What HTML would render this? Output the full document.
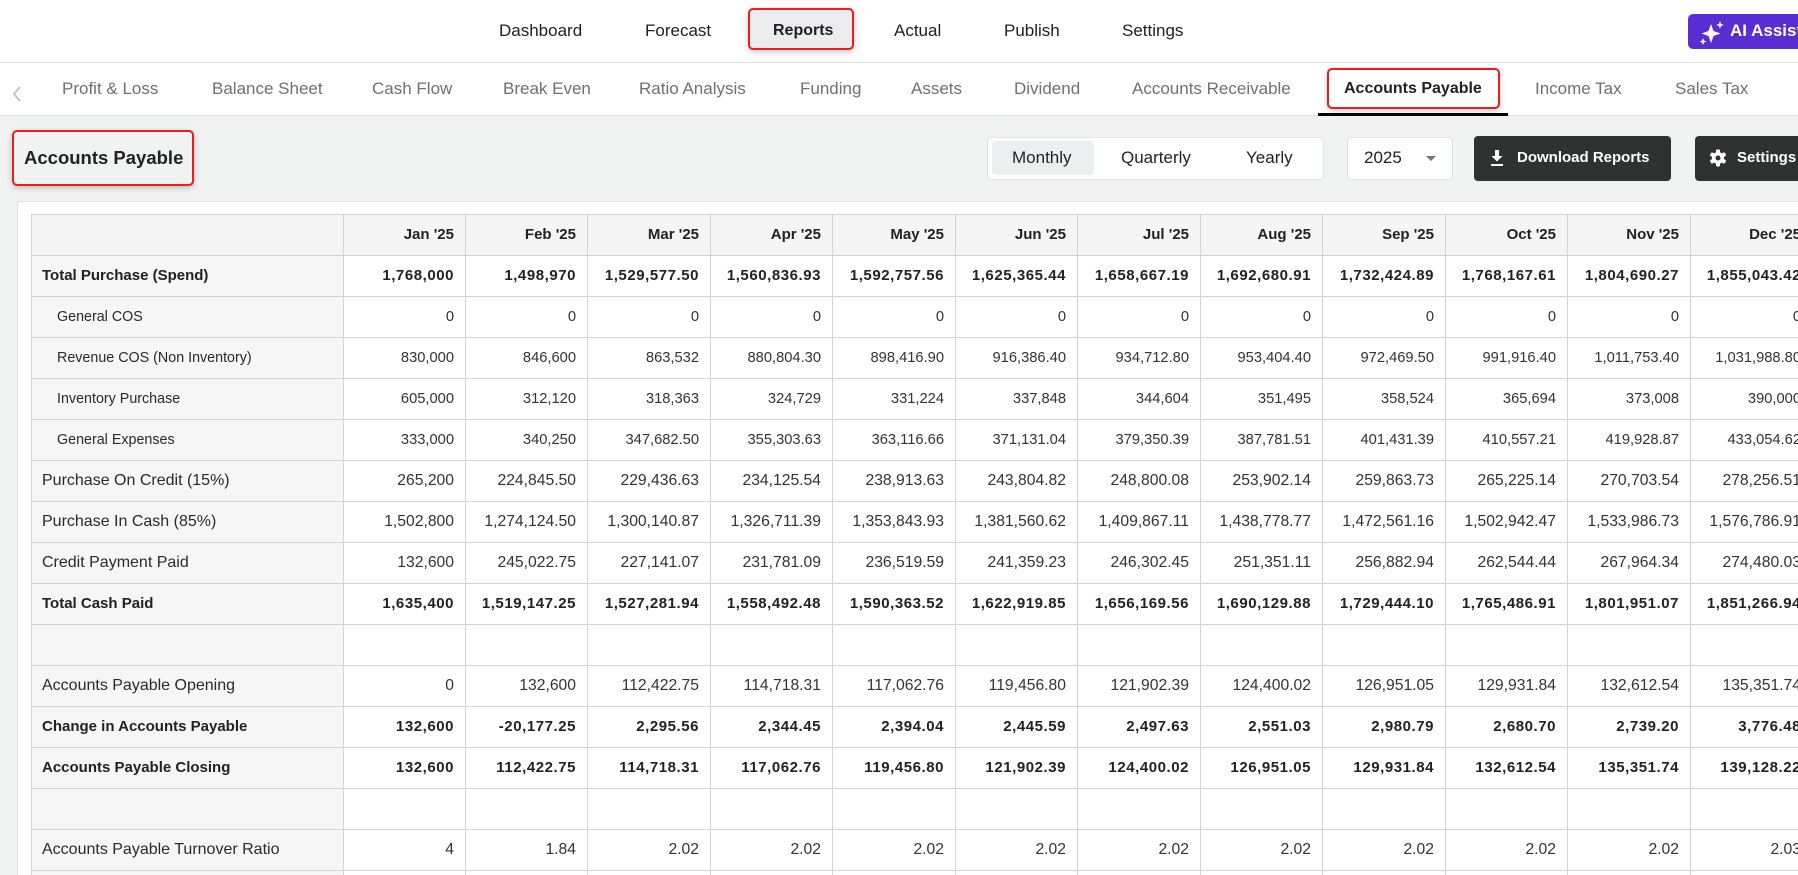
<!DOCTYPE html>
<html>
<head>
<meta charset="utf-8">
<style>
*{box-sizing:border-box;margin:0;padding:0}
html,body{width:1798px;height:875px;overflow:hidden}
body{position:relative;background:#f1f2f2;font-family:"Liberation Sans",Arial,sans-serif;color:#222}
.abs{position:absolute;white-space:nowrap}
#top{position:absolute;left:0;top:0;width:1798px;height:63px;background:#fff;border-bottom:1px solid #e0e0e0}
#tabs{position:absolute;left:0;top:63px;width:1798px;height:53px;background:#fff;border-bottom:1px solid #dcdcdc}
.nav{font-size:17px;line-height:20px;top:21px;color:#1f1f1f}
.tab{font-size:17px;line-height:20px;top:79px;color:#707070}
.box{position:absolute;border:2px solid #ee1c1c;border-radius:5px;box-shadow:0 2px 6px rgba(0,0,0,0.22)}
.ctl{font-size:17px;line-height:20px;top:148px;color:#222}
#card{position:absolute;left:17px;top:201px;width:1800px;height:700px;background:#fff;border-top:1px solid #e2e2e2;border-left:1px solid #e2e2e2}
#tbl{position:absolute;left:31px;top:214px;width:1790px;border-top:1px solid #d3d3d3;border-left:1px solid #d3d3d3}
.r{display:flex;height:41px;border-bottom:1px solid #d3d3d3}
.c{height:40px;border-right:1px solid #d3d3d3;text-align:right;padding-right:11px;line-height:40px;white-space:nowrap;overflow:hidden;color:#333;font-size:14.7px;flex:none}
.c.l{width:312px;text-align:left;padding-left:10px;padding-right:0;background:#f6f6f6;color:#2a2a2a;font-size:16px}
.r.h .c{background:#f5f5f5;font-weight:bold;font-size:15px;color:#222}
.r.b .c{font-weight:bold;font-size:15px;color:#222;letter-spacing:0.55px}
.r.b .c.l{font-size:15px;letter-spacing:0}
.r.i .c.l{padding-left:25px;font-size:14.3px}
.r.m .c{font-size:15.7px}
.r.m .c.l{font-size:16px}
</style>
</head>
<body>
<div id="top"></div>
<div id="tabs"></div>

<!-- top nav -->
<div class="box" style="left:748px;top:8px;width:106px;height:42px;background:#ececee"></div>
<span class="abs nav" style="left:499px">Dashboard</span>
<span class="abs nav" style="left:645px">Forecast</span>
<span class="abs nav" style="left:773px;font-weight:bold;font-size:16px">Reports</span>
<span class="abs nav" style="left:894px">Actual</span>
<span class="abs nav" style="left:1004px">Publish</span>
<span class="abs nav" style="left:1122px">Settings</span>

<div class="abs" style="left:1688px;top:14px;width:140px;height:35px;background:#5a2dd2;border-radius:5px"></div>
<svg class="abs" style="left:1698px;top:20px" width="28" height="26" viewBox="0 0 28 26">
<path d="M13 4 L15.5 11 L22.5 13.5 L15.5 16 L13 23 L10.5 16 L3.5 13.5 L10.5 11 Z" fill="#fff"/>
<path d="M22 1 L23 4 L26 5 L23 6 L22 9 L21 6 L18 5 L21 4 Z" fill="#fff"/>
<path d="M5 18 L6 20.5 L8.5 21.5 L6 22.5 L5 25 L4 22.5 L1.5 21.5 L4 20.5 Z" fill="#fff"/>
</svg>
<span class="abs" style="left:1730px;top:21px;font-size:17px;line-height:20px;color:#fff;font-weight:bold">AI Assistant</span>

<!-- sub tabs -->
<svg class="abs" style="left:11px;top:86px" width="12" height="16" viewBox="0 0 12 16"><polyline points="9,1 3,8 9,15" fill="none" stroke="#c4c4c4" stroke-width="2"/></svg>
<span class="abs tab" style="left:62px">Profit &amp; Loss</span>
<span class="abs tab" style="left:212px">Balance Sheet</span>
<span class="abs tab" style="left:372px">Cash Flow</span>
<span class="abs tab" style="left:503px">Break Even</span>
<span class="abs tab" style="left:639px">Ratio Analysis</span>
<span class="abs tab" style="left:800px">Funding</span>
<span class="abs tab" style="left:911px">Assets</span>
<span class="abs tab" style="left:1014px">Dividend</span>
<span class="abs tab" style="left:1132px">Accounts Receivable</span>
<div class="box" style="left:1327px;top:68px;width:173px;height:41px;background:#fff"></div>
<span class="abs tab" style="left:1344px;color:#222;font-weight:bold;font-size:16px">Accounts Payable</span>
<div class="abs" style="left:1318px;top:113px;width:190px;height:3px;background:#000"></div>
<span class="abs tab" style="left:1535px">Income Tax</span>
<span class="abs tab" style="left:1675px">Sales Tax</span>

<!-- title -->
<div class="box" style="left:12px;top:130px;width:182px;height:56px;background:#f1f2f2"></div>
<span class="abs" style="left:24px;top:147px;font-size:18.5px;line-height:22px;font-weight:bold;color:#222">Accounts Payable</span>

<!-- controls -->
<div class="abs" style="left:987px;top:137px;width:337px;height:43px;background:#fff;border:1px solid #e2e2e2;border-radius:4px"></div>
<div class="abs" style="left:992px;top:141px;width:102px;height:34px;background:#eceef0;border-radius:4px"></div>
<span class="abs ctl" style="left:1012px">Monthly</span>
<span class="abs ctl" style="left:1121px">Quarterly</span>
<span class="abs ctl" style="left:1246px">Yearly</span>

<div class="abs" style="left:1347px;top:137px;width:106px;height:43px;background:#fff;border:1px solid #e2e2e2;border-radius:4px"></div>
<span class="abs ctl" style="left:1364px">2025</span>
<div class="abs" style="left:1426px;top:156px;width:0;height:0;border-left:5px solid transparent;border-right:5px solid transparent;border-top:5px solid #777"></div>

<div class="abs" style="left:1474px;top:136px;width:197px;height:45px;background:#303131;border-radius:4px"></div>
<svg class="abs" style="left:1490px;top:149px" width="14" height="18" viewBox="0 0 14 18">
<path d="M5 1 H9 V7 H12.5 L7 12.5 L1.5 7 H5 Z" fill="#fff"/><rect x="1" y="15" width="12" height="2" fill="#fff"/>
</svg>
<span class="abs" style="left:1517px;top:148px;font-size:15px;line-height:20px;font-weight:bold;color:#fff">Download Reports</span>

<div class="abs" style="left:1695px;top:136px;width:150px;height:45px;background:#303131;border-radius:4px"></div>
<svg class="abs" style="left:1709px;top:149px" width="18" height="18" viewBox="0 0 18 18">
<g fill="#fff" transform="translate(9 9)">
<rect x="-2" y="-8.5" width="4" height="17" rx="1"/>
<rect x="-2" y="-8.5" width="4" height="17" rx="1" transform="rotate(60)"/>
<rect x="-2" y="-8.5" width="4" height="17" rx="1" transform="rotate(120)"/>
<circle r="6"/>
</g>
<circle cx="9" cy="9" r="2.5" fill="#303131"/>
</svg>
<span class="abs" style="left:1737px;top:148px;font-size:15px;line-height:20px;font-weight:bold;color:#fff">Settings</span>

<!-- card + table -->
<div id="card"></div>
<div id="tbl">
<div class="r h"><div class="c l"></div><div class="c" style="width:122px">Jan '25</div><div class="c" style="width:122px">Feb '25</div><div class="c" style="width:123px">Mar '25</div><div class="c" style="width:122px">Apr '25</div><div class="c" style="width:123px">May '25</div><div class="c" style="width:122px">Jun '25</div><div class="c" style="width:123px">Jul '25</div><div class="c" style="width:122px">Aug '25</div><div class="c" style="width:123px">Sep '25</div><div class="c" style="width:122px">Oct '25</div><div class="c" style="width:123px">Nov '25</div><div class="c" style="width:122px">Dec '25</div></div>

<div class="r b"><div class="c l">Total Purchase (Spend)</div><div class="c" style="width:122px">1,768,000</div><div class="c" style="width:122px">1,498,970</div><div class="c" style="width:123px">1,529,577.50</div><div class="c" style="width:122px">1,560,836.93</div><div class="c" style="width:123px">1,592,757.56</div><div class="c" style="width:122px">1,625,365.44</div><div class="c" style="width:123px">1,658,667.19</div><div class="c" style="width:122px">1,692,680.91</div><div class="c" style="width:123px">1,732,424.89</div><div class="c" style="width:122px">1,768,167.61</div><div class="c" style="width:123px">1,804,690.27</div><div class="c" style="width:122px">1,855,043.42</div></div>

<div class="r i"><div class="c l">General COS</div><div class="c" style="width:122px">0</div><div class="c" style="width:122px">0</div><div class="c" style="width:123px">0</div><div class="c" style="width:122px">0</div><div class="c" style="width:123px">0</div><div class="c" style="width:122px">0</div><div class="c" style="width:123px">0</div><div class="c" style="width:122px">0</div><div class="c" style="width:123px">0</div><div class="c" style="width:122px">0</div><div class="c" style="width:123px">0</div><div class="c" style="width:122px">0</div></div>

<div class="r i"><div class="c l">Revenue COS (Non Inventory)</div><div class="c" style="width:122px">830,000</div><div class="c" style="width:122px">846,600</div><div class="c" style="width:123px">863,532</div><div class="c" style="width:122px">880,804.30</div><div class="c" style="width:123px">898,416.90</div><div class="c" style="width:122px">916,386.40</div><div class="c" style="width:123px">934,712.80</div><div class="c" style="width:122px">953,404.40</div><div class="c" style="width:123px">972,469.50</div><div class="c" style="width:122px">991,916.40</div><div class="c" style="width:123px">1,011,753.40</div><div class="c" style="width:122px">1,031,988.80</div></div>

<div class="r i"><div class="c l">Inventory Purchase</div><div class="c" style="width:122px">605,000</div><div class="c" style="width:122px">312,120</div><div class="c" style="width:123px">318,363</div><div class="c" style="width:122px">324,729</div><div class="c" style="width:123px">331,224</div><div class="c" style="width:122px">337,848</div><div class="c" style="width:123px">344,604</div><div class="c" style="width:122px">351,495</div><div class="c" style="width:123px">358,524</div><div class="c" style="width:122px">365,694</div><div class="c" style="width:123px">373,008</div><div class="c" style="width:122px">390,000</div></div>

<div class="r i"><div class="c l">General Expenses</div><div class="c" style="width:122px">333,000</div><div class="c" style="width:122px">340,250</div><div class="c" style="width:123px">347,682.50</div><div class="c" style="width:122px">355,303.63</div><div class="c" style="width:123px">363,116.66</div><div class="c" style="width:122px">371,131.04</div><div class="c" style="width:123px">379,350.39</div><div class="c" style="width:122px">387,781.51</div><div class="c" style="width:123px">401,431.39</div><div class="c" style="width:122px">410,557.21</div><div class="c" style="width:123px">419,928.87</div><div class="c" style="width:122px">433,054.62</div></div>

<div class="r m"><div class="c l">Purchase On Credit (15%)</div><div class="c" style="width:122px">265,200</div><div class="c" style="width:122px">224,845.50</div><div class="c" style="width:123px">229,436.63</div><div class="c" style="width:122px">234,125.54</div><div class="c" style="width:123px">238,913.63</div><div class="c" style="width:122px">243,804.82</div><div class="c" style="width:123px">248,800.08</div><div class="c" style="width:122px">253,902.14</div><div class="c" style="width:123px">259,863.73</div><div class="c" style="width:122px">265,225.14</div><div class="c" style="width:123px">270,703.54</div><div class="c" style="width:122px">278,256.51</div></div>

<div class="r m"><div class="c l">Purchase In Cash (85%)</div><div class="c" style="width:122px">1,502,800</div><div class="c" style="width:122px">1,274,124.50</div><div class="c" style="width:123px">1,300,140.87</div><div class="c" style="width:122px">1,326,711.39</div><div class="c" style="width:123px">1,353,843.93</div><div class="c" style="width:122px">1,381,560.62</div><div class="c" style="width:123px">1,409,867.11</div><div class="c" style="width:122px">1,438,778.77</div><div class="c" style="width:123px">1,472,561.16</div><div class="c" style="width:122px">1,502,942.47</div><div class="c" style="width:123px">1,533,986.73</div><div class="c" style="width:122px">1,576,786.91</div></div>

<div class="r m"><div class="c l">Credit Payment Paid</div><div class="c" style="width:122px">132,600</div><div class="c" style="width:122px">245,022.75</div><div class="c" style="width:123px">227,141.07</div><div class="c" style="width:122px">231,781.09</div><div class="c" style="width:123px">236,519.59</div><div class="c" style="width:122px">241,359.23</div><div class="c" style="width:123px">246,302.45</div><div class="c" style="width:122px">251,351.11</div><div class="c" style="width:123px">256,882.94</div><div class="c" style="width:122px">262,544.44</div><div class="c" style="width:123px">267,964.34</div><div class="c" style="width:122px">274,480.03</div></div>

<div class="r b"><div class="c l">Total Cash Paid</div><div class="c" style="width:122px">1,635,400</div><div class="c" style="width:122px">1,519,147.25</div><div class="c" style="width:123px">1,527,281.94</div><div class="c" style="width:122px">1,558,492.48</div><div class="c" style="width:123px">1,590,363.52</div><div class="c" style="width:122px">1,622,919.85</div><div class="c" style="width:123px">1,656,169.56</div><div class="c" style="width:122px">1,690,129.88</div><div class="c" style="width:123px">1,729,444.10</div><div class="c" style="width:122px">1,765,486.91</div><div class="c" style="width:123px">1,801,951.07</div><div class="c" style="width:122px">1,851,266.94</div></div>

<div class="r"><div class="c l"></div><div class="c" style="width:122px"></div><div class="c" style="width:122px"></div><div class="c" style="width:123px"></div><div class="c" style="width:122px"></div><div class="c" style="width:123px"></div><div class="c" style="width:122px"></div><div class="c" style="width:123px"></div><div class="c" style="width:122px"></div><div class="c" style="width:123px"></div><div class="c" style="width:122px"></div><div class="c" style="width:123px"></div><div class="c" style="width:122px"></div></div>

<div class="r m"><div class="c l">Accounts Payable Opening</div><div class="c" style="width:122px">0</div><div class="c" style="width:122px">132,600</div><div class="c" style="width:123px">112,422.75</div><div class="c" style="width:122px">114,718.31</div><div class="c" style="width:123px">117,062.76</div><div class="c" style="width:122px">119,456.80</div><div class="c" style="width:123px">121,902.39</div><div class="c" style="width:122px">124,400.02</div><div class="c" style="width:123px">126,951.05</div><div class="c" style="width:122px">129,931.84</div><div class="c" style="width:123px">132,612.54</div><div class="c" style="width:122px">135,351.74</div></div>

<div class="r b"><div class="c l">Change in Accounts Payable</div><div class="c" style="width:122px">132,600</div><div class="c" style="width:122px">-20,177.25</div><div class="c" style="width:123px">2,295.56</div><div class="c" style="width:122px">2,344.45</div><div class="c" style="width:123px">2,394.04</div><div class="c" style="width:122px">2,445.59</div><div class="c" style="width:123px">2,497.63</div><div class="c" style="width:122px">2,551.03</div><div class="c" style="width:123px">2,980.79</div><div class="c" style="width:122px">2,680.70</div><div class="c" style="width:123px">2,739.20</div><div class="c" style="width:122px">3,776.48</div></div>

<div class="r b"><div class="c l">Accounts Payable Closing</div><div class="c" style="width:122px">132,600</div><div class="c" style="width:122px">112,422.75</div><div class="c" style="width:123px">114,718.31</div><div class="c" style="width:122px">117,062.76</div><div class="c" style="width:123px">119,456.80</div><div class="c" style="width:122px">121,902.39</div><div class="c" style="width:123px">124,400.02</div><div class="c" style="width:122px">126,951.05</div><div class="c" style="width:123px">129,931.84</div><div class="c" style="width:122px">132,612.54</div><div class="c" style="width:123px">135,351.74</div><div class="c" style="width:122px">139,128.22</div></div>

<div class="r"><div class="c l"></div><div class="c" style="width:122px"></div><div class="c" style="width:122px"></div><div class="c" style="width:123px"></div><div class="c" style="width:122px"></div><div class="c" style="width:123px"></div><div class="c" style="width:122px"></div><div class="c" style="width:123px"></div><div class="c" style="width:122px"></div><div class="c" style="width:123px"></div><div class="c" style="width:122px"></div><div class="c" style="width:123px"></div><div class="c" style="width:122px"></div></div>

<div class="r m"><div class="c l">Accounts Payable Turnover Ratio</div><div class="c" style="width:122px">4</div><div class="c" style="width:122px">1.84</div><div class="c" style="width:123px">2.02</div><div class="c" style="width:122px">2.02</div><div class="c" style="width:123px">2.02</div><div class="c" style="width:122px">2.02</div><div class="c" style="width:123px">2.02</div><div class="c" style="width:122px">2.02</div><div class="c" style="width:123px">2.02</div><div class="c" style="width:122px">2.02</div><div class="c" style="width:123px">2.02</div><div class="c" style="width:122px">2.03</div></div>

<div class="r"><div class="c l"></div><div class="c" style="width:122px"></div><div class="c" style="width:122px"></div><div class="c" style="width:123px"></div><div class="c" style="width:122px"></div><div class="c" style="width:123px"></div><div class="c" style="width:122px"></div><div class="c" style="width:123px"></div><div class="c" style="width:122px"></div><div class="c" style="width:123px"></div><div class="c" style="width:122px"></div><div class="c" style="width:123px"></div><div class="c" style="width:122px"></div></div>
</div>
</body>
</html>
